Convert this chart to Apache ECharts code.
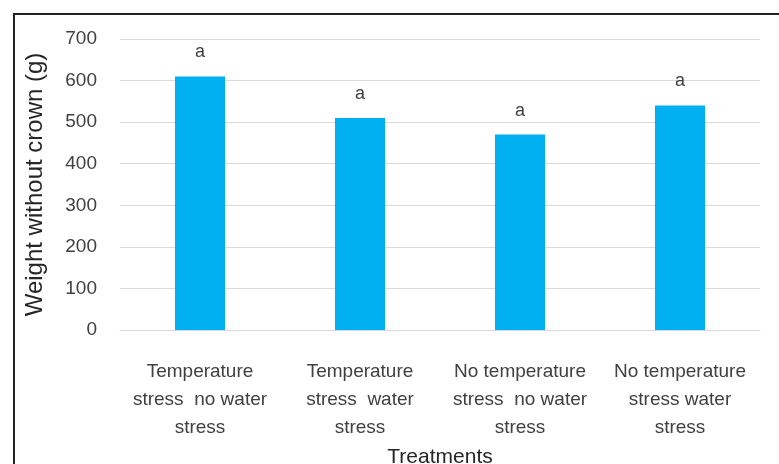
<!DOCTYPE html>
<html>
<head>
<meta charset="utf-8">
<script src="https://cdn.jsdelivr.net/npm/echarts@6/dist/echarts.min.js"></script>
<style>
html, body { margin: 0; padding: 0; background: #fff; }
#main { width: 779px; height: 464px; }
</style>
</head>
<body>
<div id="main"></div>
<script>
var categories = [
	'Temperature\nstress  no water\nstress',
	'Temperature\nstress  water\nstress',
	'No temperature\nstress  no water\nstress',
	'No temperature\nstress water\nstress'
];
var weights = [610, 510, 470, 540];
var letters = ['a', 'a', 'a', 'a'];
var yTicks = [0, 700, 100];

var font = 'Liberation Sans';
var chart = echarts.init(document.getElementById('main'));

var option = {
	animation: false,
	backgroundColor: '#fff',
	grid: {left: 120, right: 19, top: 39, bottom: 134, containLabel: false, outerBoundsMode: 'none'},
	graphic: [{
		type: 'rect',
		shape: {x: 14, y: 14, width: 800, height: 500},
		style: {fill: 'none', stroke: '#222', lineWidth: 2}
	}],
	xAxis: {
		type: 'category',
		data: categories,
		name: 'Treatments',
		nameLocation: 'middle',
		nameGap: 110,
		nameTextStyle: {fontFamily: font, fontSize: 21, color: '#262626'},
		axisLine: {lineStyle: {color: '#d9d9d9', width: 1}},
		axisTick: {show: false},
		axisLabel: {
			interval: 0,
			margin: 28,
			fontFamily: font,
			fontSize: 19,
			lineHeight: 28,
			color: '#404040'
		}
	},
	yAxis: {
		type: 'value',
		min: yTicks[0],
		max: yTicks[1],
		interval: yTicks[2],
		name: 'Weight without crown (g)',
		nameLocation: 'middle',
		nameGap: 73,
		nameTextStyle: {fontFamily: font, fontSize: 24, color: '#262626'},
		axisLine: {show: false},
		axisTick: {show: false},
		axisLabel: {margin: 23, fontFamily: font, fontSize: 19, color: '#404040'},
		splitLine: {lineStyle: {color: '#d9d9d9', width: 1}}
	},
	series: [{
		type: 'bar',
		data: weights,
		barWidth: 50,
		itemStyle: {color: '#00B0F0'},
		label: {
			show: true,
			position: 'top',
			distance: 15,
			fontFamily: font,
			fontSize: 18,
			color: '#404040',
			formatter: function (p) { return letters[p.dataIndex]; }
		}
	}]
};

chart.setOption(option);
</script>
</body>
</html>
